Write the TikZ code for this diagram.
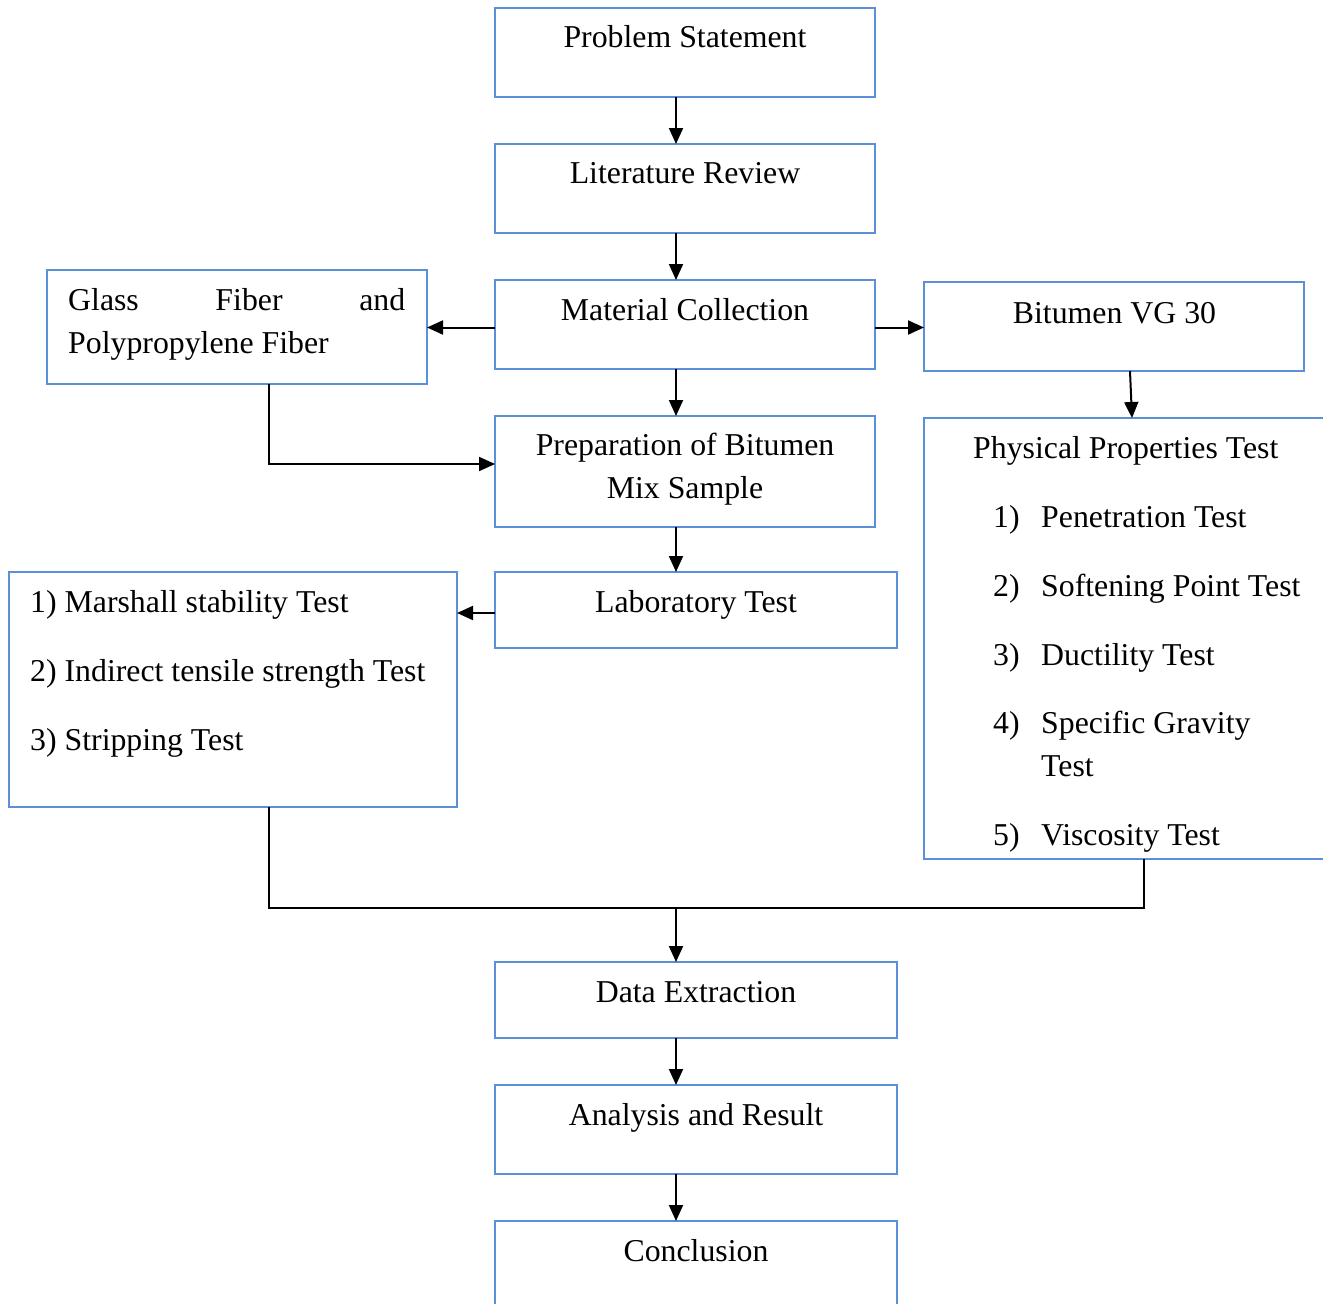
\documentclass[tikz,border=0pt]{standalone}
\usepackage{fontspec}
\setmainfont{Liberation Serif}
\usetikzlibrary{calc,arrows.meta}
\definecolor{boxblue}{HTML}{5B8FD8}
\begin{document}
\begin{tikzpicture}[x=1pt,y=-1pt,
  box/.style={draw=boxblue,line width=2.4pt,fill=none,inner sep=0pt,outer sep=0pt,anchor=north west},
  txt/.style={font=\fontsize{31.8}{43}\selectfont,inner sep=0pt,anchor=base},
  txtl/.style={txt,anchor=base west},
  conn/.style={draw=black,line width=2pt},
  arr/.style={conn,-{Triangle[length=16pt,width=14pt]}}]
\clip (0,0) rectangle (1323,1304);
\fill[white] (0,0) rectangle (1323,1304);
% boxes
\node[box,minimum width=380pt,minimum height=89pt] (ps) at (495,8) {};
\node[box,minimum width=380pt,minimum height=89pt] (lr) at (495,144) {};
\node[box,minimum width=380pt,minimum height=89pt] (mc) at (495,280) {};
\node[box,minimum width=380pt,minimum height=114pt] (gf) at (47,270) {};
\node[box,minimum width=380pt,minimum height=89pt] (bv) at (924,282) {};
\node[box,minimum width=380pt,minimum height=111pt] (pr) at (495,416) {};
\node[box,minimum width=402pt,minimum height=76pt] (lt) at (495,572) {};
\node[box,minimum width=448pt,minimum height=235pt] (ts) at (9,572) {};
\node[box,minimum width=430pt,minimum height=441pt] (pp) at (924,418) {};
\node[box,minimum width=402pt,minimum height=76pt] (de) at (495,962) {};
\node[box,minimum width=402pt,minimum height=89pt] (ar) at (495,1085) {};
\node[box,minimum width=402pt,minimum height=110pt] (cc) at (495,1221) {};
% texts
\node[txt] (tps) at (685,47) {Problem Statement};
\node[txt] (tlr) at (685,183) {Literature Review};
\node[txt] (tmc) at (685,320) {Material Collection};
\node[txtl] (tgf1) at (68,310) {\hbox to 337pt{Glass\hfill Fiber\hfill and}};
\node[txtl] (tgf2) at (68,353) {Polypropylene Fiber};
\node[txt] (tbv) at (1114.5,323) {Bitumen VG 30};
\node[txt] (tpr1) at (685,455) {Preparation of Bitumen};
\node[txt] (tpr2) at (685,498) {Mix Sample};
\node[txt] (tlt) at (696,612) {Laboratory Test};
\node[txtl] (tts1) at (30,612) {1) Marshall stability Test};
\node[txtl] (tts2) at (30,681) {2) Indirect tensile strength Test};
\node[txtl] (tts3) at (30,750) {3) Stripping Test};
\node[txtl] (tpp) at (973,458) {Physical Properties Test};
\node[txtl] (n1) at (993,527) {1)};
\node[txtl] (i1) at (1041,527) {Penetration Test};
\node[txtl] (n2) at (993,596) {2)};
\node[txtl] (i2) at (1041,596) {Softening Point Test};
\node[txtl] (n3) at (993,665) {3)};
\node[txtl] (i3) at (1041,665) {Ductility Test};
\node[txtl] (n4) at (993,733) {4)};
\node[txtl] (i4) at (1041,733) {Specific Gravity};
\node[txtl] (i4b) at (1041,776) {Test};
\node[txtl] (n5) at (993,845) {5)};
\node[txtl] (i5) at (1041,845) {Viscosity Test};
\node[txt] (tde) at (696,1002) {Data Extraction};
\node[txt] (tar) at (696,1125) {Analysis and Result};
\node[txt] (tcc) at (696,1261) {Conclusion};
% junction coordinates
\coordinate (j1) at (269,464);
\coordinate (j2) at (269,908);
\coordinate (j3) at (1144,908);
\coordinate (jm) at (676,908);
\coordinate (jb) at (1132,418);
\coordinate (ja) at (0,327.5);
% connectors
\draw[arr] ($(ps.south)+(-9,0)$) -- ($(lr.north)+(-9,0)$);
\draw[arr] ($(lr.south)+(-9,0)$) -- ($(mc.north)+(-9,0)$);
\draw[arr] (ja -| mc.west) -- (ja -| gf.east);
\draw[arr] (ja -| mc.east) -- (ja -| bv.west);
\draw[arr] ($(mc.south)+(-9,0)$) -- ($(pr.north)+(-9,0)$);
\draw[arr] ($(gf.south)+(32,0)$) -- (j1) -- (j1 -| pr.west);
\draw[arr] ($(bv.south)+(16,0)$) -- (jb);
\draw[arr] ($(pr.south)+(-9,0)$) -- ($(pr.south |- lt.north)+(-9,0)$);
\draw[arr] ($(lt.west)+(0,3)$) -- ($(ts.east |- lt.west)+(0,3)$);
\draw[conn] ($(ts.south)+(36,0)$) -- (j2) -- (j3) -- (j3 |- pp.south);
\draw[arr] (jm) -- (jm |- de.north);
\draw[arr] ($(de.south)+(-20,0)$) -- ($(ar.north)+(-20,0)$);
\draw[arr] ($(ar.south)+(-20,0)$) -- ($(cc.north)+(-20,0)$);
\end{tikzpicture}
\end{document}
